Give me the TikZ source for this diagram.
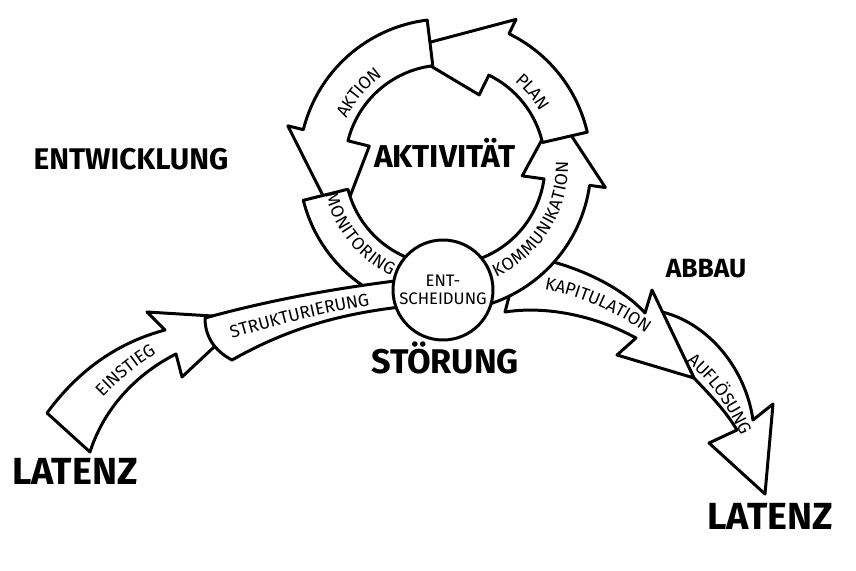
\documentclass[tikz,border=0pt]{standalone}
\usepackage{fontspec}
\setmainfont{Fira Sans}
\usetikzlibrary{decorations.text}
\newcommand\bandfont{\fontsize{10}{11}\selectfont}

\begin{document}
\begin{tikzpicture}[x=0.02cm, y=-0.02cm,
  band/.style={draw=black, fill=white, line width=1.7pt, line join=round},
  bandtext/.style={decorate, decoration={text along path, text align=center,
    raise=-3.5pt, text={|\bandfont|#1}}},
  biglabel/.style={anchor=base, inner sep=0pt, font=\bfseries\fontsize{#1}{#1}\selectfont}
]
\useasboundingbox (0,0) rectangle (856,571);
\fill[white] (0,0) rectangle (856,571);

\path[band] (662,312) .. controls (705,322) and (745,365) .. (753,420) -- (773,404) -- (765,494)
  -- (709,443) -- (737,430) .. controls (725,410) and (710,395) .. (694,378) -- cycle;
\path[band] (520,255) .. controls (570,262) and (620,285) .. (645,313) -- (652,290) -- (694,378)
  -- (617,355) -- (636,338) .. controls (600,318) and (550,305) .. (505,312) -- cycle;

\coordinate (ring) at (445,165);
\begin{scope}[shift={(ring)}]
\path[band] (75:146) arc[start angle=75, end angle=8, radius=146] -- (8:162) -- (-25:123)
  -- (8:78) -- (8:100) arc[start angle=8, end angle=75, radius=100] -- cycle;
\path[band] (347:146) arc[start angle=347, end angle=296, radius=146] -- (296:162) -- (250:123)
  -- (296:78) -- (296:100) arc[start angle=296, end angle=347, radius=100] -- cycle;
\path[band] (263:146) arc[start angle=263, end angle=194, radius=146] -- (194:162) -- (150:123)
  -- (194:78) -- (194:100) arc[start angle=194, end angle=263, radius=100] -- cycle;
\path[band] (166:146) arc[start angle=166, end angle=105, radius=146]
  -- (105:100) arc[start angle=105, end angle=166, radius=100] -- cycle;
\end{scope}

\path[band] (47,413) .. controls (80,368) and (120,342) .. (165,330) -- (147,312) -- (245,318)
  -- (182,377) -- (176,354) .. controls (140,372) and (105,405) .. (90,452) -- cycle;
\path[band] (205,318) .. controls (270,300) and (340,287) .. (420,278) -- (420,305)
  .. controls (340,312) and (285,330) .. (232,360) .. controls (213,350) and (205,335) .. (205,318) -- cycle;

\node[circle, draw, line width=1.7pt, fill=white, minimum size=2cm, inner sep=0pt, align=center,
  font=\fontsize{9.5}{10.5}\selectfont] (entsch) at (443,290) {ENT-\\SCHEIDUNG};

\begin{scope}[shift={(ring)}]
\path[bandtext=AKTION] (195:115) arc[start angle=195, end angle=245, radius=115];
\path[bandtext=PLAN] (295:115) arc[start angle=295, end angle=345, radius=115];
\path[bandtext=KOMMUNIKATION] (70:117) arc[start angle=70, end angle=-6, radius=117];
\path[bandtext=MONITORING] (175:117) arc[start angle=175, end angle=107, radius=117];
\end{scope}
\path[bandtext=EINSTIEG] (75,420) .. controls (108,378) and (140,352) .. (185,332);
\path[bandtext=STRUKTURIERUNG] (205,340) .. controls (270,320) and (330,304) .. (395,296);
\path[bandtext=KAPITULATION] (522,281) .. controls (568,283) and (625,305) .. (668,343);
\path[bandtext=AUFLÖSUNG] (678,348) .. controls (708,368) and (735,400) .. (752,448);

\node[biglabel=17] (entw) at (131,170) {ENTWICKLUNG};
\node[biglabel=18] (aktiv) at (445,168) {AKTIVITÄT};
\node[biglabel=19.5] (stoer) at (445,373) {STÖRUNG};
\node[biglabel=15] (abbau) at (706,277) {ABBAU};
\node[biglabel=21.5] (latl) at (75,484) {LATENZ};
\node[biglabel=21.5] (latr) at (770,529) {LATENZ};
\end{tikzpicture}
\end{document}
